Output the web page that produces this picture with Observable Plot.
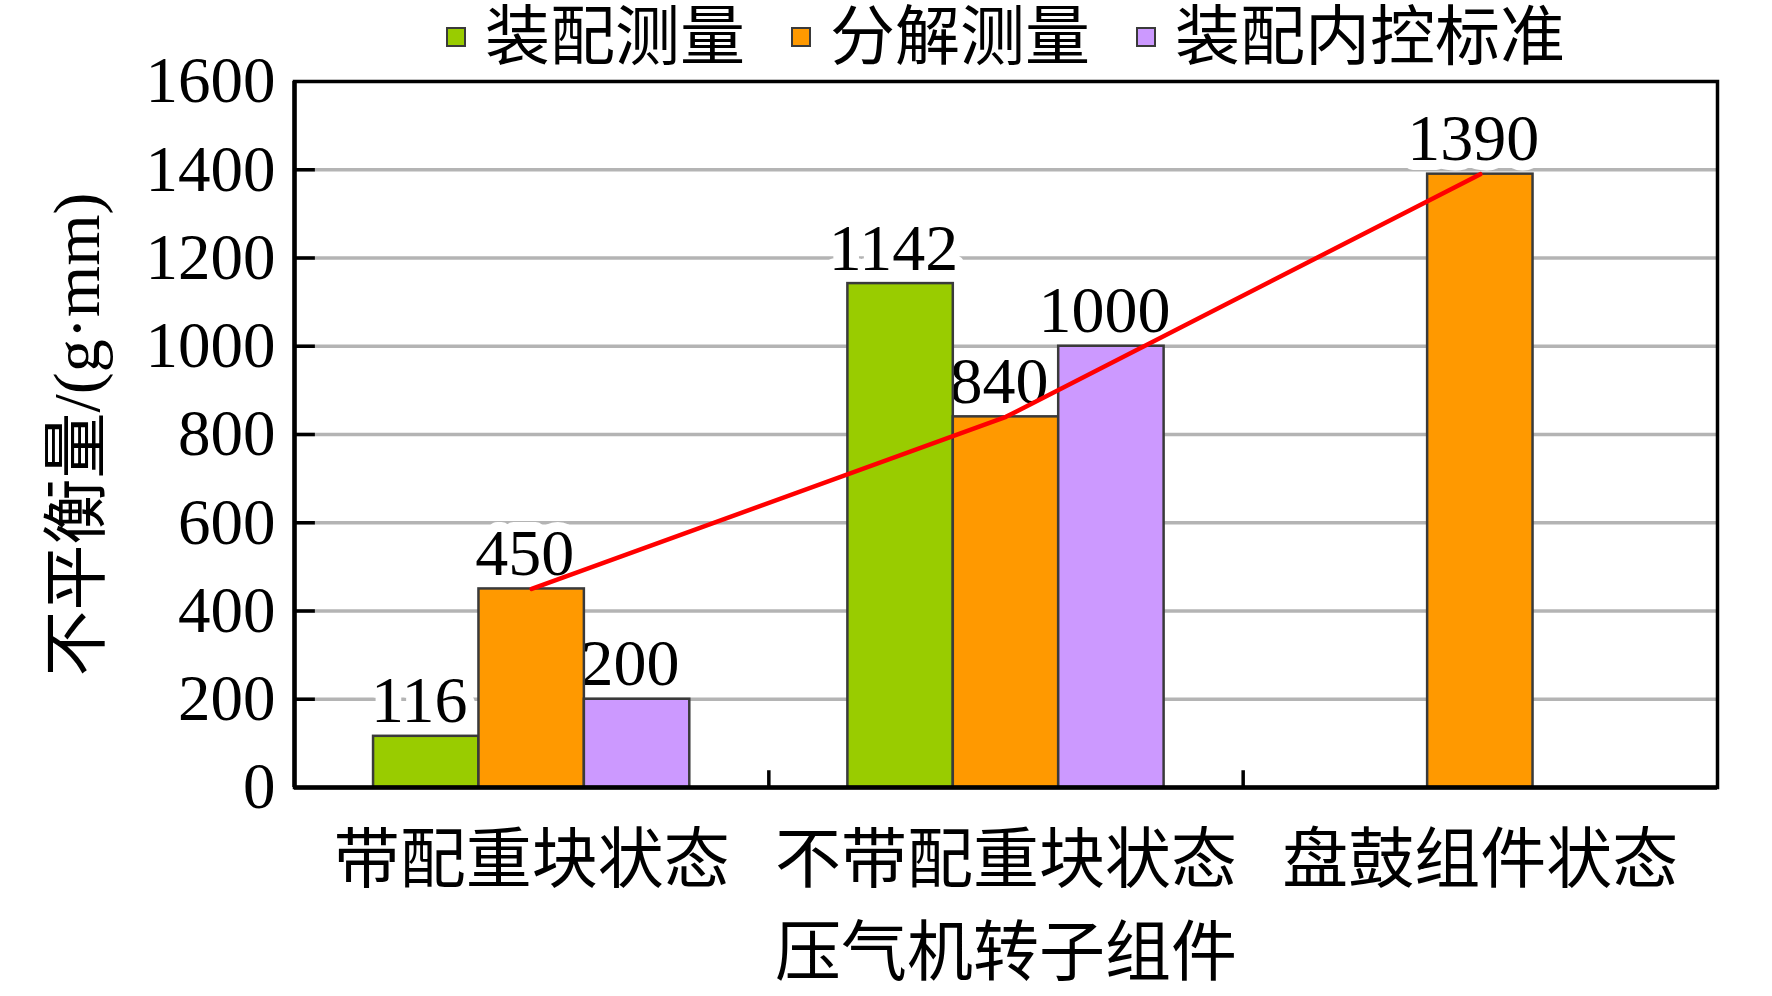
<!DOCTYPE html>
<html>
<head>
<meta charset="utf-8">
<script src="https://cdn.jsdelivr.net/npm/d3@7"></script>
<script src="https://cdn.jsdelivr.net/npm/@observablehq/plot@0.6"></script>
<style>
  html, body { margin: 0; padding: 0; background: #fff; }
  #wrap { position: relative; width: 1772px; height: 996px; }
  #legend { position: absolute; left: 294px; top: 0; width: 1423px; height: 74px;
    display: flex; justify-content: center; align-items: center;
    font-family: "Liberation Serif", "Noto Sans CJK SC", serif; font-size: 65px; line-height: 1; color: #000; }
  .item { display: flex; align-items: center; }
  .item + .item { margin-left: 46px; }
  .sw { width: 16px; height: 16px; border: 2px solid #3a3a3a; margin-right: 19px; }
</style>
</head>
<body>
<div id="wrap"><div id="legend"></div></div>
<script>
const categories = ["带配重块状态", "不带配重块状态", "盘鼓组件状态"];
const series = ["装配测量", "分解测量", "装配内控标准"];
const assemblyValues = [116, 1142, null];
const disassemblyValues = [450, 840, 1390];
const standardValues = [200, 1000, null];
const colors = ["#99cc00", "#ff9900", "#cc99ff"];
const yTicks = [0, 200, 400, 600, 800, 1000, 1200, 1400, 1600];
const xTitle = "压气机转子组件";
const yTitle = "不平衡量/(g·mm)";

const valueLists = [assemblyValues, disassemblyValues, standardValues];
const rows = [];
categories.forEach((c, gi) => {
  series.forEach((s, sj) => {
    const v = valueLists[sj][gi];
    if (v == null) return;
    const x1 = gi + 1 / 6 + sj * 2 / 9;
    rows.push({category: c, series: s, value: v, x1, x2: x1 + 2 / 9, xm: x1 + 1 / 9});
  });
});
const trend = rows.filter(d => d.series === series[1]);

const serif = "Liberation Serif, Noto Sans CJK SC, serif";

const chart = Plot.plot({
  width: 1772,
  height: 996,
  marginLeft: 294,
  marginRight: 55,
  marginTop: 81,
  marginBottom: 209,
  x: {type: "linear", domain: [0, 3], axis: null},
  y: {domain: [0, 1600], axis: null},
  color: {domain: series, range: colors},
  style: {fontFamily: serif, background: "white", overflow: "visible"},
  marks: [
    Plot.ruleY(yTicks.filter(t => t > 0 && t < 1600), {stroke: "#b4b4b4", strokeWidth: 3.5}),
    Plot.text(rows, {x: "xm", y: "value", text: d => String(d.value), dx: -7, dy: -14, lineAnchor: "bottom",
      fontSize: 66, fontFamily: serif, fill: "black", stroke: "white", strokeWidth: 20}),
    Plot.rect(rows, {x1: "x1", x2: "x2", y1: 0, y2: "value", fill: "series", stroke: "#3a3a3a", strokeWidth: 2.5}),
    Plot.line(trend, {x: "xm", y: "value", stroke: "#ff0000", strokeWidth: 4.5}),
    Plot.ruleY(yTicks.filter(t => t > 0 && t < 1600), {x1: 0, x2: 0.044, stroke: "black", strokeWidth: 3.5}),
    Plot.ruleX([1, 2], {y1: 0, y2: 38, stroke: "black", strokeWidth: 3.5}),
    Plot.frame({stroke: "black", strokeWidth: 3.5}),
    Plot.ruleX([0], {stroke: "black", strokeWidth: 4.5}),
    Plot.ruleY([0], {stroke: "black", strokeWidth: 4.5}),
    Plot.axisY(yTicks, {tickSize: 0, tickPadding: 19, fontSize: 65, fontFamily: serif, label: null,
      tickFormat: d => String(d)}),
    Plot.axisX([0.5, 1.5, 2.5], {tickSize: 0, tickPadding: 48, fontSize: 66, fontFamily: serif,
      tickFormat: d => categories[Math.floor(d)], label: null}),
    Plot.text([xTitle], {frameAnchor: "bottom", dy: 166, lineAnchor: "middle", fontSize: 66, fontFamily: serif}),
    Plot.text([yTitle], {frameAnchor: "left", dx: -217, rotate: -90, lineAnchor: "middle", textAnchor: "middle", fontSize: 66, fontFamily: serif})
  ]
});
document.getElementById("wrap").appendChild(chart);

const legend = document.getElementById("legend");
series.forEach((s, i) => {
  const item = document.createElement("div");
  item.className = "item";
  const sw = document.createElement("div");
  sw.className = "sw";
  sw.style.background = colors[i];
  const label = document.createElement("span");
  label.textContent = s;
  item.appendChild(sw);
  item.appendChild(label);
  legend.appendChild(item);
});
</script>
</body>
</html>
